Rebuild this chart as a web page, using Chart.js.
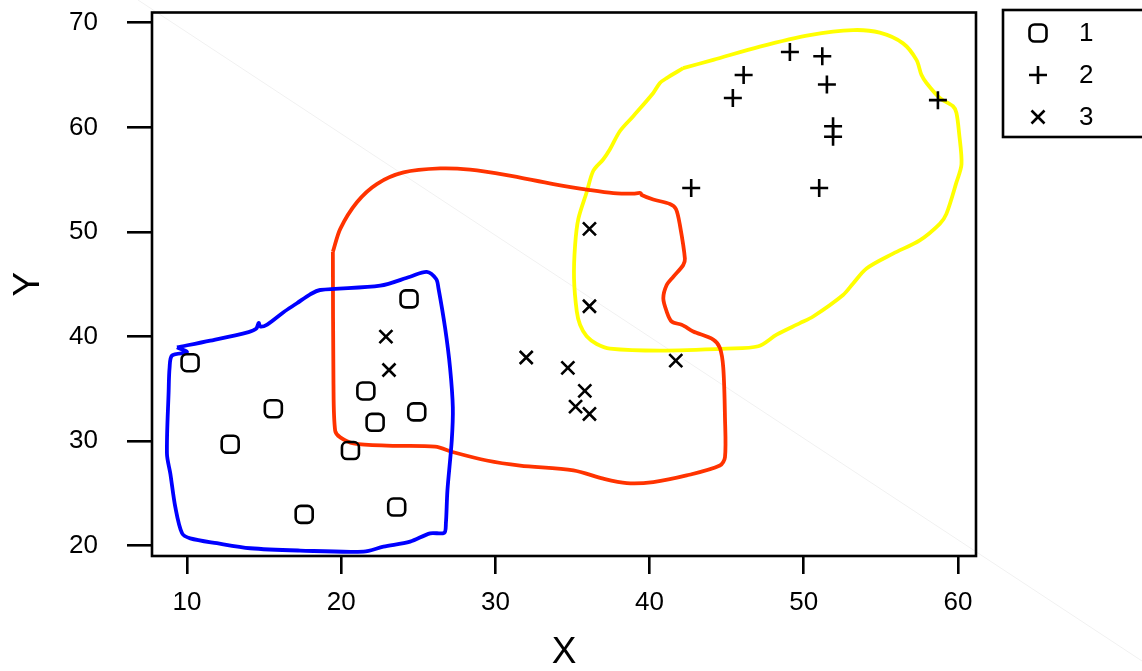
<!DOCTYPE html>
<html>
<head>
<meta charset="utf-8">
<script src="https://cdn.jsdelivr.net/npm/chart.js"></script>
<style>
    html, body { margin: 0; padding: 0; background: #fff; }
    #wrap { width: 1142px; height: 671px; position: relative; }
</style>
</head>
<body>
<div id="wrap"><canvas id="chart"></canvas></div>
<script>
// Ticks
var xTicks = [10, 20, 30, 40, 50, 60];
var yTicks = [20, 30, 40, 50, 60, 70];
var legendLabels = ['1', '2', '3'];

// Group 1 (squares)
var group1X = [10.2, 15.6, 12.8, 21.6, 22.2, 24.9, 20.6, 17.6, 23.6, 24.4];
var group1Y = [37.5, 33.1, 29.7, 34.8, 31.8, 32.8, 29.1, 23.0, 23.7, 43.6];

// Group 2 (plus)
var group2X = [49.1, 51.2, 46.1, 45.4, 51.5, 58.7, 51.9, 51.9, 42.7, 51.0];
var group2Y = [67.2, 66.8, 65.0, 62.8, 64.1, 62.6, 60.1, 59.1, 54.2, 54.2];

// Group 3 (cross)
var group3X = [22.9, 23.1, 32.0, 34.7, 35.8, 35.2, 36.1, 36.1, 36.1, 41.7];
var group3Y = [40.0, 36.8, 38.0, 37.0, 34.8, 33.3, 32.6, 50.3, 42.9, 37.7];

// Contour 1 (blue)
var blueX = [9.35, 10.0, 9.03, 8.87, 8.81, 8.70, 8.92, 9.24, 9.68, 10.21, 11.94, 14.1, 17.34, 21.45, 22.74, 24.47, 25.77, 26.68,
    26.79, 26.89, 27.17, 27.24, 27.06, 26.74, 26.31, 26.16, 25.55, 24.47, 22.53, 18.64, 17.99, 17.13, 16.26, 15.2, 14.75,
    14.65, 14.49, 13.99, 11.51];
var blueY = [38.97, 38.5, 38.19, 37.01, 34.8, 28.78, 26.89, 23.71, 21.19, 20.71, 20.24, 19.76, 19.54, 19.44, 19.91, 20.39, 21.19, 21.24,
    22.14, 25.3, 30.05, 33.21, 37.01, 40.81, 44.61, 45.5, 46.19, 45.72, 44.86, 44.45, 44.04, 43.18, 42.33, 41.15, 40.95,
    41.3, 40.75, 40.43, 39.61];

// Contour 2 (red)
var redX = [19.46, 19.94, 21.02, 22.31, 24.04, 26.42, 28.36, 30.74, 33.76, 36.14, 37.65, 38.94, 39.42, 39.49, 40.24, 41.32, 41.71,
    41.97, 42.29, 42.18, 41.54, 41.11, 40.89, 41.11, 41.43, 42.08, 42.29, 42.83, 44.13, 44.56, 44.78, 44.89, 44.89, 44.56,
    42.4, 40.24, 38.52, 37.0, 35.06, 31.6, 29.44, 27.28, 26.09, 22.96, 20.8, 19.94, 19.61, 19.5];
var redY = [48.09, 50.3, 52.84, 54.58, 55.69, 56.07, 55.95, 55.43, 54.58, 54.01, 53.72, 53.67, 53.72, 53.53, 53.1, 52.68, 52.2,
    50.63, 47.45, 46.83, 45.72, 44.93, 43.66, 42.39, 41.44, 41.13, 40.97, 40.49, 39.71, 38.91, 37.01, 32.26, 28.46, 27.67,
    26.72, 26.09, 25.99, 26.41, 27.2, 27.67, 28.15, 28.94, 29.48, 29.57, 29.79, 30.36, 31.0, 35.43];

// Contour 3 (yellow)
var yellowX = [42.18, 44.13, 47.15, 50.39, 53.2, 54.93, 56.44, 57.31, 57.63, 57.96, 58.82, 59.68, 59.9, 60.07, 60.23, 59.9, 59.25,
    58.82, 57.52, 55.79, 54.07, 53.2, 52.55, 50.61, 49.75, 48.24, 47.05, 45.0, 40.67, 37.43, 36.57, 35.92, 35.49, 35.28,
    35.1, 35.17, 35.38, 35.92, 36.35, 37.0, 37.43, 38.08, 38.94, 40.24, 40.67, 41.11];
var yellowY = [65.66, 66.45, 67.72, 68.82, 69.3, 69.05, 68.03, 66.45, 65.02, 64.24, 62.81, 62.02, 61.39, 59.49, 56.48, 54.74, 51.73,
    50.78, 49.2, 47.93, 46.51, 45.08, 43.98, 41.92, 41.28, 40.18, 39.07, 38.85, 38.66, 38.85, 39.29, 40.02, 41.13, 42.39,
    45.56, 48.73, 51.25, 53.79, 55.85, 56.95, 57.9, 59.65, 61.07, 63.29, 64.24, 64.71];

var fontFamily = '"Liberation Sans", Arial, Helvetica, sans-serif';
Chart.defaults.font.family = fontFamily;
Chart.defaults.color = '#000';

/**
 * Zip x/y arrays into points, optionally closing the loop
 */
function toPoints(xs, ys, closed) {
    var pts = xs.map(function (x, i) { return { x: x, y: ys[i] }; });
    if (closed)
        pts.push({ x: xs[0], y: ys[0] });
    return pts;
}

// Marker styles, shared by plot and legend
var markers = [
    { pointStyle: 'rectRounded', radius: 9.9 },
    { pointStyle: 'cross', radius: 9 },
    { pointStyle: 'crossRot', radius: 9.2 }
];

function pointSet(label, xs, ys, m) {
    return {
        label: label,
        data: toPoints(xs, ys),
        pointStyle: m.pointStyle,
        pointRadius: m.radius,
        pointBorderWidth: 2.6,
        pointBorderColor: '#000',
        pointBackgroundColor: 'rgba(0,0,0,0)',
        showLine: false
    };
}

function contourSet(xs, ys, colour) {
    return {
        label: '',
        data: toPoints(xs, ys, true),
        showLine: true,
        borderColor: colour,
        borderWidth: 3.8,
        pointRadius: 0,
        tension: 0.3,
        fill: false
    };
}

// Faint diagonal behind everything
var diagPlugin = {
    id: 'diag',
    beforeDatasetsDraw: function (chart) {
        var c = chart.ctx;
        c.save();
        c.strokeStyle = 'rgba(0,0,0,0.06)';
        c.lineWidth = 1;
        c.beginPath();
        c.moveTo(138, 0);
        c.lineTo(1142, 661);
        c.stroke();
        c.restore();
    }
};

// Box round the plot region
var boxPlugin = {
    id: 'box',
    afterDraw: function (chart) {
        var a = chart.chartArea, c = chart.ctx;
        c.save();
        c.strokeStyle = '#000';
        c.lineWidth = 2.6;
        c.strokeRect(a.left, a.top, a.right - a.left, a.bottom - a.top);
        c.restore();
    }
};

// Legend drawn R-style, outside the plot
var legendPlugin = {
    id: 'rlegend',
    afterDraw: function (chart) {
        var c = chart.ctx;
        c.save();
        c.strokeStyle = '#000';
        c.lineWidth = 2.6;
        c.strokeRect(1003, 10, 160, 127);
        c.font = '26px ' + fontFamily;
        c.fillStyle = '#000';
        c.textAlign = 'left';
        c.textBaseline = 'middle';
        legendLabels.forEach(function (lab, i) {
            var y = 33 + i * 42;
            c.save();
            c.strokeStyle = '#000';
            c.fillStyle = 'rgba(0,0,0,0)';
            c.lineWidth = 2.6;
            Chart.helpers.drawPoint(c, { pointStyle: markers[i].pointStyle, radius: markers[i].radius, rotation: 0, borderWidth: 2.6 }, 1038, y);
            c.restore();
            c.fillText(lab, 1079, y + 1);
        });
        c.restore();
    }
};

var ctx = document.getElementById('chart').getContext('2d');
var chart = new Chart(ctx, {
    type: 'scatter',
    data: {
        datasets: [
            pointSet('1', group1X, group1Y, markers[0]),
            pointSet('2', group2X, group2Y, markers[1]),
            pointSet('3', group3X, group3Y, markers[2]),
            contourSet(blueX, blueY, '#0000FF'),
            contourSet(redX, redY, '#FF3300'),
            contourSet(yellowX, yellowY, '#FFFF00')
        ]
    },
    options: {
        responsive: true,
        maintainAspectRatio: false,
        animation: false,
        layout: { padding: { left: 0, top: 9, right: 166, bottom: 0 } },
        plugins: {
            legend: { display: false },
            tooltip: { enabled: false }
        },
        scales: {
            x: {
                type: 'linear',
                min: 7.73,
                max: 61.17,
                afterFit: function (s) {
                    s.height = 115;
                    s.paddingLeft = 0;
                    s.paddingRight = 0;
                },
                afterBuildTicks: function (s) { s.ticks = xTicks.map(function (v) { return { value: v }; }); },
                grid: { drawOnChartArea: false, tickLength: 18, color: '#000', lineWidth: 2.6 },
                border: { display: false },
                ticks: { padding: 13, font: { size: 26 }, color: '#000', maxRotation: 0, autoSkip: false },
                title: { display: true, text: 'X', font: { size: 37, lineHeight: 1 }, padding: { top: 0, bottom: 0 }, color: '#000' }
            },
            y: {
                type: 'linear',
                min: 19.02,
                max: 70.98,
                afterFit: function (s) {
                    s.width = 152;
                    s.paddingTop = 0;
                    s.paddingBottom = 0;
                },
                afterBuildTicks: function (s) { s.ticks = yTicks.map(function (v) { return { value: v }; }); },
                grid: { drawOnChartArea: false, tickLength: 25, color: '#000', lineWidth: 2.6 },
                border: { display: false },
                ticks: { padding: 29, font: { size: 26 }, color: '#000', autoSkip: false },
                title: { display: true, text: 'Y', font: { size: 37, lineHeight: 1 }, padding: { top: 10, bottom: 0 }, color: '#000' }
            }
        }
    },
    plugins: [diagPlugin, boxPlugin, legendPlugin]
});
</script>
</body>
</html>
